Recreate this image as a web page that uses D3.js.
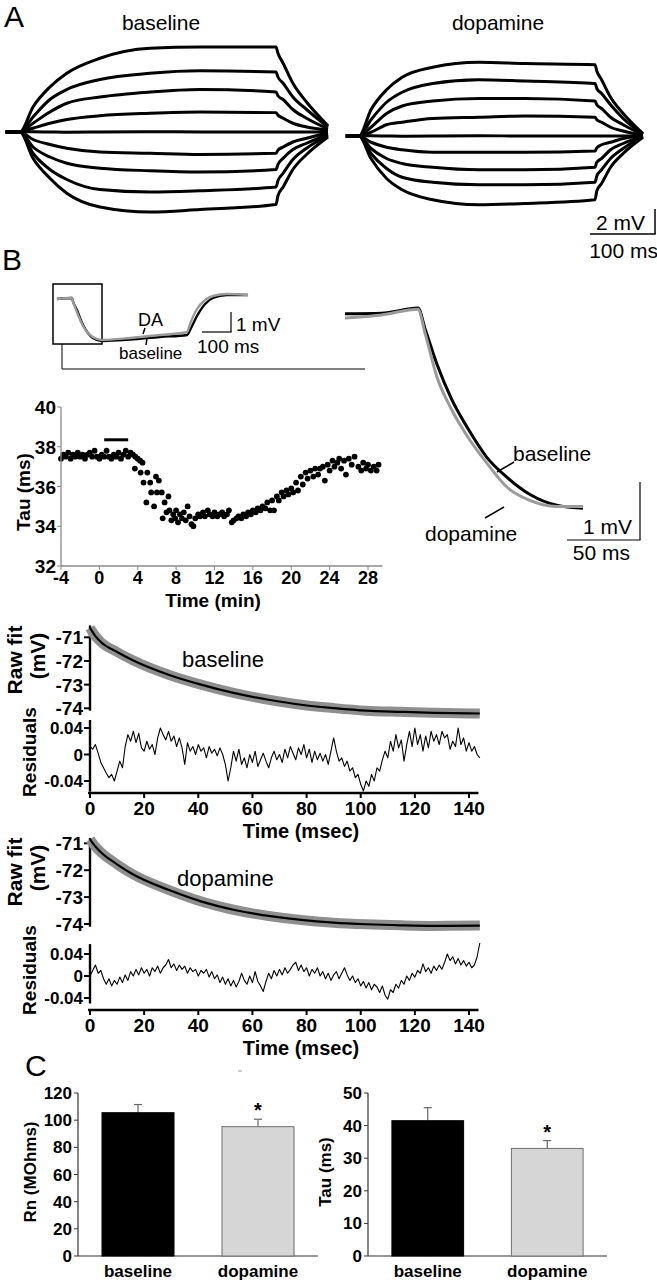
<!DOCTYPE html>
<html><head><meta charset="utf-8">
<script src="https://cdn.jsdelivr.net/npm/d3@7"></script>
<style>
body{margin:0;background:#fff}
svg{display:block}
text{font-family:"Liberation Sans",Arial,Helvetica,sans-serif;fill:#000}
</style></head>
<body><svg id="fig" width="657" height="1280"></svg>
<script>
// ---------------- DATA ----------------
// Panel A: step responses (ms, mV relative to rest)
const stepTimes = [-22, 0, 20, 46, 72, 123, 200, 277, 394, 397, 405, 420, 441, 474];
const baselineSteps = [
  [0,0,2.0,3.6,4.7,5.9,6.7,6.8,6.8,6.3,5.5,3.9,2.4,0.5],
  [0,0,1.2,2.6,3.4,4.2,4.7,4.9,4.8,4.4,3.9,2.8,1.8,0.4],
  [0,0,0.7,1.6,2.3,2.8,3.2,3.4,3.2,2.9,2.6,1.8,1.1,0.25],
  [0,0,0.3,0.7,1.0,1.3,1.5,1.6,1.55,1.35,1.1,0.7,0.4,0.15],
  [0,0,0.02,0,-0.02,0,0.03,0,0,0,0,0,0,0],
  [0,0,-0.6,-1.0,-1.3,-1.6,-1.7,-1.8,-1.7,-1.45,-1.2,-0.8,-0.5,-0.05],
  [0,0,-1.2,-2.0,-2.5,-2.9,-3.1,-3.2,-3.0,-2.6,-2.1,-1.4,-0.9,-0.2],
  [0,0,-1.7,-3.0,-3.8,-4.6,-4.8,-4.7,-4.4,-3.9,-3.3,-2.2,-1.3,-0.3],
  [0,0,-2.1,-3.7,-4.9,-6.0,-6.4,-6.2,-5.8,-5.1,-4.4,-3.0,-1.8,-0.4]
];
const dopamineSteps = [
  [0,0,2.1,3.7,4.7,5.5,5.9,5.8,5.7,5.2,4.5,3.1,1.8,0.2],
  [0,0,1.3,2.7,3.5,4.2,4.5,4.4,4.2,3.8,3.4,2.5,1.4,0.15],
  [0,0,0.7,1.8,2.4,2.8,3.0,3.0,2.8,2.5,2.2,1.5,0.9,0.1],
  [0,0,0.3,0.9,1.1,1.4,1.5,1.6,1.5,1.3,1.1,0.7,0.4,0.05],
  [0,0,0.02,0,-0.02,0,0.02,0,0,0,0,0,0,0],
  [0,0,-0.5,-0.9,-1.1,-1.3,-1.3,-1.3,-1.2,-0.95,-0.7,-0.5,-0.2,0],
  [0,0,-1.0,-1.8,-2.2,-2.5,-2.7,-2.7,-2.5,-2.1,-1.8,-1.1,-0.6,0],
  [0,0,-1.4,-2.6,-3.3,-3.7,-3.9,-3.9,-3.7,-3.2,-2.7,-1.8,-1.0,0],
  [0,0,-1.8,-3.4,-4.3,-5.1,-5.5,-5.4,-5.1,-4.4,-3.8,-2.5,-1.4,-0.1]
];

// Panel B inset (ms, mV)
const insetTimes = [-52, 0, 3, 17, 38, 55, 72, 103, 200, 303, 397, 407, 431, 459, 486, 534, 607];
const insetDA =       [-0.05, 0, -0.15, -0.7, -1.4, -1.75, -1.95, -2.1, -2.0, -1.85, -1.7, -1.3, -0.55, -0.1, 0.1, 0.2, 0.15];
const insetBaseline = [-0.05, 0, -0.15, -0.6, -1.35, -1.75, -2.0, -2.15, -2.08, -1.95, -1.85, -1.6, -0.9, -0.3, 0.0, 0.15, 0.15];

// Panel B expanded decay (ms, mV)
const decayTimes = [-50, -25, 0, 5, 13, 23, 34, 47, 61, 77, 95, 113];
const decayBaseline = [0.02, 0.03, 0.12, -0.25, -0.85, -1.45, -1.95, -2.45, -2.8, -3.1, -3.28, -3.33];
const decayDopamine = [-0.05, 0.0, 0.1, -0.33, -1.07, -1.63, -2.1, -2.55, -2.97, -3.2, -3.3, -3.3];

// Tau time course (min, ms)
const tauTime = [-4.0,-3.75,-3.5,-3.25,-3.0,-2.75,-2.5,-2.25,-2.0,-1.75,-1.5,-1.25,-1.0,-0.75,-0.5,-0.25,0.0,0.25,0.5,0.75,1.0,1.25,1.5,1.75,2.0,2.25,2.5,2.75,3.0,3.25,3.5,3.75,4.0,4.25,4.5,
  3.7,4.3,4.6,4.9,5.0,5.3,5.4,5.7,5.9,6.0,6.2,6.5,6.6,6.8,7.0,7.2,7.3,7.5,7.7,7.9,8.0,8.2,8.4,8.6,8.8,9.0,9.2,9.4,9.6,9.8,
  10.0,10.3,10.5,10.8,11.0,11.3,11.5,11.8,12.0,12.3,12.5,12.8,13.0,13.3,13.5,13.8,14.0,14.3,14.5,14.8,15.0,15.3,15.5,15.8,16.0,16.3,16.5,16.8,17.0,17.3,17.5,17.8,18.0,18.2,18.5,18.7,19.0,19.2,19.5,19.7,
  20.0,20.2,20.5,20.7,21.0,21.2,21.5,21.7,22.0,22.3,22.5,22.8,23.0,23.3,23.5,23.8,24.0,24.3,24.5,24.8,25.0,25.2,25.5,25.7,26.0,26.3,26.6,27.0,27.3,27.5,27.8,28.0,28.3,28.6,28.9,29.1];
const tauValue = [37.4,37.6,37.5,37.7,37.4,37.6,37.5,37.7,37.5,37.6,37.4,37.6,37.7,37.5,37.8,37.5,37.4,37.6,37.5,37.8,37.5,37.4,37.6,37.5,37.7,37.4,37.6,37.8,37.5,37.7,37.6,37.5,37.4,37.3,37.2,
  36.9,36.7,36.2,35.2,36.7,36.2,35.7,35.0,36.5,35.7,36.3,35.7,34.4,35.2,34.7,35.5,34.8,34.3,34.6,34.4,34.8,34.2,34.6,34.4,34.7,34.3,35.0,34.5,34.1,34.0,
  34.4,34.6,34.5,34.7,34.5,34.8,34.6,34.5,34.7,34.5,34.6,34.7,34.5,34.6,34.8,34.2,34.3,34.4,34.5,34.4,34.6,34.5,34.7,34.6,34.8,34.7,34.9,34.8,35.0,34.9,35.2,34.8,35.3,34.8,35.5,35.3,35.7,35.5,35.8,35.6,
  35.9,35.7,36.2,35.8,36.5,36.1,36.7,36.4,36.8,36.5,36.9,36.6,36.9,37.0,36.3,37.1,36.8,37.3,37.0,37.2,37.4,36.9,37.3,36.6,37.4,37.1,37.5,37.0,36.8,37.2,36.9,37.1,36.8,37.0,36.8,37.1];
const tauTicksX = [-4,0,4,8,12,16,20,24,28];
const tauTicksY = [32,34,36,38,40];
const drugBar = [0.5, 3.0, 38.35];

// Raw fit traces (ms, mV)
const fitTimes = [0, 2, 4, 10, 16, 29, 41, 53, 66, 78, 90, 102, 115, 127, 144];
const fitBaseline = [-70.6,-70.95,-71.2,-71.62,-71.98,-72.58,-73.0,-73.35,-73.64,-73.85,-73.99,-74.1,-74.15,-74.19,-74.22];
const fitDopamine = [-70.85,-71.12,-71.33,-71.78,-72.16,-72.73,-73.16,-73.47,-73.7,-73.85,-73.95,-74.01,-74.05,-74.07,-74.06];
const residBaseline = [0.012,0.008,0.015,0.002,-0.012,-0.02,-0.028,-0.035,-0.03,-0.04,-0.025,-0.01,-0.02,0.012,0.03,0.02,0.035,0.018,0.032,0.01,
  0.005,0.02,0.008,0.015,0.0,0.025,0.04,0.03,0.022,0.035,0.02,0.028,0.012,0.025,0.01,-0.015,0.018,0.005,0.012,0.0,
  0.015,0.005,0.01,-0.005,0.012,0.002,0.008,-0.002,0.01,0.0,-0.015,-0.04,-0.02,0.005,-0.01,0.008,-0.015,-0.005,-0.02,0.0,
  -0.012,0.005,-0.018,-0.008,0.002,-0.01,-0.02,-0.005,0.005,-0.008,0.0,-0.012,0.008,-0.005,0.012,0.002,-0.008,0.01,0.0,0.015,
  -0.005,0.008,-0.012,0.005,-0.008,0.002,-0.01,0.0,-0.015,0.005,0.025,0.005,-0.01,-0.005,-0.018,-0.01,-0.025,-0.02,-0.035,-0.03,
  -0.045,-0.055,-0.04,-0.048,-0.03,-0.04,-0.02,-0.025,-0.008,0.005,-0.005,0.02,0.005,0.03,0.01,0.022,-0.01,0.015,0.035,0.012,
  0.04,0.015,0.03,0.005,0.028,0.01,0.035,0.02,0.03,0.015,0.035,0.025,0.03,0.008,0.02,0.012,0.04,0.015,0.025,0.005,
  0.018,0.005,0.012,0.0,-0.005];
const residDopamine = [0.0,0.01,0.02,0.005,0.01,-0.005,-0.015,-0.005,-0.018,-0.008,-0.015,-0.002,-0.012,0.002,-0.008,0.008,0.0,0.012,0.002,0.015,
  0.005,0.012,0.0,0.015,0.008,0.018,0.005,0.015,0.02,0.03,0.015,0.022,0.01,0.02,0.012,0.018,0.005,0.015,0.008,0.012,
  0.0,0.01,0.005,0.012,-0.002,0.008,-0.005,0.002,-0.012,-0.002,-0.015,-0.005,-0.018,-0.008,-0.02,-0.01,0.005,-0.008,-0.015,0.0,
  -0.012,0.008,-0.01,-0.018,-0.028,-0.01,0.005,-0.005,0.01,0.0,0.012,0.002,0.015,0.005,0.012,0.02,0.025,0.01,0.02,0.008,
  0.015,0.0,0.012,0.005,0.015,0.0,0.008,-0.005,0.005,-0.008,0.002,0.008,-0.005,0.005,0.015,0.002,-0.008,0.0,-0.012,-0.005,
  -0.018,-0.01,-0.022,-0.012,-0.025,-0.015,-0.02,-0.03,-0.018,-0.035,-0.042,-0.025,-0.03,-0.015,-0.022,-0.008,-0.015,0.0,-0.008,0.005,
  -0.002,0.01,0.005,0.022,0.008,0.015,0.005,0.018,0.01,0.02,0.012,0.025,0.04,0.028,0.035,0.022,0.032,0.02,0.028,0.018,
  0.025,0.015,0.02,0.035,0.06];
const fitTicksY = [-71,-72,-73,-74];
const residTicksY = [0.04,0,-0.04];
const msecTicks = [0,20,40,60,80,100,120,140];

// Panel C bars
const groups = ["baseline","dopamine"];
const rnMean = [105.5, 95.2];
const rnSem = [6.0, 5.5];
const tauMean = [41.5, 33.0];
const tauSem = [4.0, 2.4];
const rnTicks = [0,20,40,60,80,100,120];
const tauBarTicks = [0,10,20,30,40,50];

// ---------------- DRAW ----------------
const svg = d3.select("#fig");
function label(x, y, s, size, o = {}) {
  const t = svg.append("text").attr("x", x).attr("y", y).text(s)
    .attr("font-size", size).attr("text-anchor", o.anchor || "start")
    .attr("font-weight", o.weight || "normal");
  if (o.rotate) t.attr("transform", `rotate(-90,${x},${y})`);
  return t;
}
function line(x1, y1, x2, y2, w = 1, c = "#000") {
  svg.append("line").attr("x1", x1).attr("y1", y1).attr("x2", x2).attr("y2", y2)
    .attr("stroke", c).attr("stroke-width", w);
}
function path(xs, ys, xScale, yScale, color, width, curve = d3.curveMonotoneX) {
  const gen = d3.line().x(d => xScale(d[0])).y(d => yScale(d[1])).curve(curve);
  svg.append("path").datum(d3.zip(xs, ys)).attr("d", gen)
    .attr("fill", "none").attr("stroke", color).attr("stroke-width", width)
    .attr("stroke-linejoin", "round").attr("stroke-linecap", "butt");
}

// Panel letters
label(4, 27, "A", 30);
label(2, 270, "B", 30);
label(25, 1076, "C", 30);

// ----- Panel A -----
const xA1 = d3.scaleLinear().domain([0, 394]).range([20, 276]);
const yA1 = d3.scaleLinear().domain([0, 2]).range([132, 107]);
const xA2 = d3.scaleLinear().domain([0, 394]).range([359, 595]);
const yA2 = d3.scaleLinear().domain([0, 2]).range([136, 111]);
baselineSteps.forEach(v => path(stepTimes, v, xA1, yA1, "#000", 3));
dopamineSteps.forEach(v => path(stepTimes, v, xA2, yA2, "#000", 3));
label(161, 30, "baseline", 21, {anchor: "middle"});
label(498, 30, "dopamine", 21, {anchor: "middle"});
// scale bar A
{
  const x0 = 655, y0 = 234;
  const h = yA1(0) - yA1(2), w = xA1(100) - xA1(0);
  line(x0, y0, x0, y0 - h, 1.5);
  line(x0 - w, y0, x0 + 0.75, y0, 1.5);
  label(645, 230, "2 mV", 21, {anchor: "end"});
  label(658, 258, "100 ms", 21, {anchor: "end"});
}

// ----- Panel B inset -----
const xIn = d3.scaleLinear().domain([0, 100]).range([72, 101]);
const yIn = d3.scaleLinear().domain([0, 1]).range([298, 278]);
svg.append("rect").attr("x", 53).attr("y", 284).attr("width", 49).attr("height", 60)
  .attr("fill", "none").attr("stroke", "#000").attr("stroke-width", 1.5);
svg.append("path").attr("d", "M62,344V369H365").attr("fill", "none").attr("stroke", "#000").attr("stroke-width", 1);
path(insetTimes, insetBaseline, xIn, yIn, "#000", 2.4);
path(insetTimes, insetDA, xIn, yIn, "#9a9a9a", 2.4);
label(138, 326, "DA", 18);
line(145, 328, 143, 334, 1.5);
line(147, 338, 146, 345, 1.5);
label(119, 359, "baseline", 17);
{
  const x0 = 231, y0 = 332;
  line(x0, y0, x0, y0 - (yIn(0) - yIn(1)), 1.2);
  line(x0 - (xIn(100) - xIn(0)), y0, x0 + 0.6, y0, 1.2);
  label(236, 331, "1 mV", 19);
  label(197, 353, "100 ms", 19);
}

// ----- Panel B expanded decay -----
const xR = d3.scaleLinear().domain([0, 50]).range([418, 491]);
const yR = d3.scaleLinear().domain([0, 1]).range([315, 257]);
path(decayTimes, decayBaseline, xR, yR, "#000", 3);
path(decayTimes, decayDopamine, xR, yR, "#9a9a9a", 3);
label(513, 461, "baseline", 21);
line(497, 472, 514, 462, 1.5);
label(425, 541, "dopamine", 21);
line(485, 518, 504, 507, 1.5);
{
  const x0 = 640, y0 = 540;
  line(x0, y0, x0, y0 - (yR(0) - yR(1)), 1.2);
  line(x0 - (xR(50) - xR(0)), y0, x0 + 0.6, y0, 1.2);
  label(632, 534, "1 mV", 21, {anchor: "end"});
  label(630, 560, "50 ms", 21, {anchor: "end"});
}

// ----- Tau time course -----
const xTau = d3.scaleLinear().domain([-4, 28]).range([61, 368]);
const yTau = d3.scaleLinear().domain([32, 40]).range([566, 407]);
{
  const g = svg.append("g");
  line(xTau(-4), yTau(32), xTau(29.5), yTau(32), 1.3, "#8a8a8a");
  line(xTau(-4), yTau(32), xTau(-4), yTau(40), 1.3, "#8a8a8a");
  tauTicksX.forEach(t => {
    line(xTau(t), yTau(32), xTau(t), yTau(32) + 4, 1, "#8a8a8a");
    label(xTau(t), 584, String(t), 18, {anchor: "middle", weight: "bold"});
  });
  tauTicksY.forEach(v => {
    line(xTau(-4) - 4, yTau(v), xTau(-4), yTau(v), 1, "#8a8a8a");
    label(56, yTau(v) + 7, String(v), 19, {anchor: "end", weight: "bold"});
  });
  g.selectAll("circle").data(d3.zip(tauTime, tauValue)).enter().append("circle")
    .attr("cx", d => xTau(d[0])).attr("cy", d => yTau(d[1])).attr("r", 2.9).attr("fill", "#000");
  line(xTau(drugBar[0]), yTau(drugBar[2]), xTau(drugBar[1]), yTau(drugBar[2]), 3);
  label(213, 607, "Time (min)", 19, {anchor: "middle", weight: "bold"});
  label(30, 492, "Tau (ms)", 19, {anchor: "middle", rotate: true, weight: "bold"});
}

// ----- Raw fit + residual panels -----
const xMs = d3.scaleLinear().domain([0, 140]).range([90, 469]);
function fitPanel(cfg) {
  const yFit = d3.scaleLinear().domain([-71, -74]).range(cfg.fitRange);
  const yRes = d3.scaleLinear().domain([0.04, -0.04]).range(cfg.resRange);
  // axes
  line(90, yFit(cfg.fitAxis[0]), 90, yFit(cfg.fitAxis[1]), 2.4);
  fitTicksY.forEach(v => {
    line(84, yFit(v), 90, yFit(v), 2);
    label(83, yFit(v) + 7, String(v), 19, {anchor: "end", weight: "bold"});
  });
  line(90, yRes(cfg.resAxis[0]), 90, yRes(cfg.resAxis[1]), 2.4);
  residTicksY.forEach(v => {
    line(84, yRes(v), 90, yRes(v), 2);
    label(83, yRes(v) + 6, String(v), 17, {anchor: "end", weight: "bold"});
  });
  line(88, cfg.xAxisY, xMs(143.5), cfg.xAxisY, 2.4);
  msecTicks.forEach(t => {
    line(xMs(t), cfg.xAxisY, xMs(t), cfg.xAxisY + 5, 2);
    label(xMs(t), cfg.xAxisY + 22, String(t), 19, {anchor: "middle", weight: "bold"});
  });
  label(301, cfg.xAxisY + 45, "Time (msec)", 20, {anchor: "middle", weight: "bold"});
  // traces
  path(fitTimes, cfg.fit, xMs, yFit, "#8f8f8f", 10);
  path(fitTimes, cfg.fit, xMs, yFit, "#000", 2.2);
  path(d3.range(cfg.resid.length), cfg.resid, xMs, yRes, "#000", 1.1, d3.curveLinear);
  // labels
  label(cfg.nameX, cfg.nameY, cfg.name, 22);
  label(22, cfg.labelY, "Raw fit", 21, {anchor: "middle", rotate: true, weight: "bold"});
  label(45, cfg.labelY - 4, "(mV)", 21, {anchor: "middle", rotate: true, weight: "bold"});
  label(36, cfg.resLabelY, "Residuals", 19, {anchor: "middle", rotate: true, weight: "bold"});
}
fitPanel({fit: fitBaseline, resid: residBaseline, fitRange: [637.3, 708.3], fitAxis: [-70.5, -74.1],
  resRange: [728, 781], resAxis: [0.052, -0.056], xAxisY: 793,
  name: "baseline", nameX: 182, nameY: 667, labelY: 660, resLabelY: 752});
fitPanel({fit: fitDopamine, resid: residDopamine, fitRange: [843.3, 924], fitAxis: [-70.8, -74.1],
  resRange: [954, 998], resAxis: [0.058, -0.05], xAxisY: 1010,
  name: "dopamine", nameX: 177, nameY: 886, labelY: 872, resLabelY: 970});

// ----- Panel C bar charts -----
function barChart(cfg) {
  const x = d3.scaleBand().domain(groups).range(cfg.xRange).paddingInner(0.4).paddingOuter(0.2);
  const y = d3.scaleLinear().domain(cfg.domain).range([1256, 1093]);
  line(cfg.xRange[0], 1256, cfg.xRange[1], 1256, 1.2, "#333");
  line(cfg.xRange[0], 1256, cfg.xRange[0], 1093, 1.2, "#333");
  cfg.ticks.forEach(v => {
    line(cfg.xRange[0] - 4, y(v), cfg.xRange[0], y(v), 1, "#333");
    label(cfg.xRange[0] - 6, y(v) + 6, String(v), 17, {anchor: "end", weight: "bold"});
  });
  groups.forEach((gname, i) => {
    const bx = x(gname), bw = x.bandwidth();
    const top = y(cfg.mean[i]), errTop = y(cfg.mean[i] + cfg.sem[i]);
    line(bx + bw / 2, top, bx + bw / 2, errTop, 1.2, "#666");
    line(bx + bw / 2 - 4, errTop, bx + bw / 2 + 4, errTop, 1.2, "#666");
    svg.append("rect").attr("x", bx).attr("y", top).attr("width", bw).attr("height", 1256 - top)
      .attr("fill", i === 0 ? "#000" : "#d6d6d6").attr("stroke", i === 0 ? "#000" : "#6e6e6e").attr("stroke-width", 1);
    label(bx + bw / 2, 1277, gname, 17, {anchor: "middle", weight: "bold"});
    if (i === 1) label(bx + bw / 2, errTop - 2, "*", 20, {anchor: "middle", weight: "bold"});
  });
  label(cfg.titleX, 1172, cfg.title, 17, {anchor: "middle", rotate: true, weight: "bold"});
}
barChart({xRange: [78, 318], domain: [0, 120], ticks: rnTicks, mean: rnMean, sem: rnSem, title: "Rn (MOhms)", titleX: 36});
barChart({xRange: [368, 607], domain: [0, 50], ticks: tauBarTicks, mean: tauMean, sem: tauSem, title: "Tau (ms)", titleX: 331});
line(238, 1071, 242, 1071, 1, "#999");
</script>
</body></html>
